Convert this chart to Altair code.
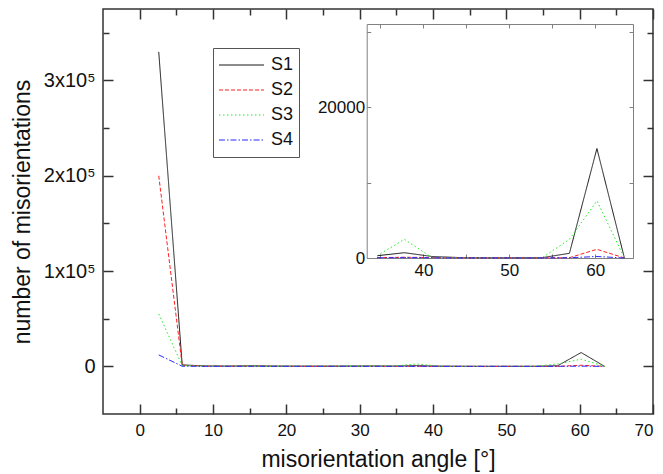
import altair as alt
import pandas as pd

# ---------------- data ----------------
angles = [2.6, 5.8, 9.0, 12.2, 15.4, 18.6, 21.8, 25.0, 28.2, 31.4,
          34.6, 37.8, 41.0, 44.2, 47.4, 50.6, 53.8, 57.0, 60.2, 63.4]
series_names = ["S1", "S2", "S3", "S4"]
s1 = [330000, 1500, 400, 300, 600, 300, 200, 200, 300, 400,
      300, 700, 200, 60, 40, 40, 40, 620, 14500, 0]
s2 = [200000, 1200, 200, 150, 200, 100, 100, 100, 100, 100,
      50, 100, 50, 30, 20, 20, 20, 40, 1150, 0]
s3 = [55000, 800, 300, 200, 300, 200, 200, 200, 300, 400,
      300, 2470, 50, 30, 20, 20, 20, 2470, 7570, 0]
s4 = [12000, 100, 50, 50, 50, 50, 50, 50, 50, 50,
      30, 50, 20, 10, 10, 10, 10, 30, 200, 0]

x_major = [0, 10, 20, 30, 40, 50, 60, 70]
x_minor = [5, 15, 25, 35, 45, 55, 65]
y_major = [0, 100000, 200000, 300000]
y_minor = [50000, 150000, 250000, 350000]
ix_labels = [40, 50, 60]
ix_ticks = [35, 40, 45, 50, 55, 60]
iy_labels = [0, 20000]
iy_ticks = [0, 10000, 20000, 30000]

rows = []
for name, vals in zip(series_names, [s1, s2, s3, s4]):
    for a, v in zip(angles, vals):
        rows.append({"angle": a, "count": v, "series": name})
df = pd.DataFrame(rows)
inset_df = df[df["angle"] >= 34.0]

# ---------------- layout / style ----------------
W, H = 550, 405
FONT = "Liberation Sans"
X_DOM = [-5, 70]
Y_DOM = [-50000, 375000]
IX_DOM = [33.4, 64.4]
IY_DOM = [0, 31000]
IX_RANGE = [263.7, 530]
IY_RANGE = [249, 15]
INS_L, INS_R, INS_T, INS_B = 263.7, 530, 15, 249

color_scale = alt.Scale(domain=series_names,
                        range=["#1a1a1a", "#ff2020", "#22ee22", "#2a2aff"])
dash_scale = alt.Scale(domain=series_names,
                       range=[[1, 0], [4, 2], [1.5, 2.5], [6, 2, 1.5, 2]])


def mscale_x():
    return alt.Scale(domain=X_DOM, nice=False, zero=False)


def mscale_y():
    return alt.Scale(domain=Y_DOM, nice=False, zero=False)


def iscale_x():
    return alt.Scale(domain=IX_DOM, range=IX_RANGE, nice=False, zero=False)


def iscale_y():
    return alt.Scale(domain=IY_DOM, range=IY_RANGE, nice=False, zero=False)


def ax(orient, values, offset, tick=0, labels=False, domain=False,
       color="#333", width=1.5, **kw):
    d = dict(orient=orient, values=values, offset=offset, labels=labels,
             domain=domain, grid=False)
    if tick > 0:
        d.update(ticks=True, tickSize=tick, tickColor=color, tickWidth=width)
    else:
        d.update(ticks=False)
    if domain:
        d.update(domainColor=color, domainWidth=width)
    d.update(kw)
    return alt.Axis(**d)


base = alt.Chart(df)
ibase = alt.Chart(inset_df)

y_label_expr = ("datum.value == 0 ? '0' : "
                "format(datum.value / 100000, 'd') + 'x10\u2075'")

# main lines with bottom/left major axes
m1 = base.mark_line(strokeWidth=1).encode(
    x=alt.X("angle:Q", scale=mscale_x(), title="misorientation angle [°]",
            axis=ax("bottom", x_major, -10, tick=10, labels=True,
                    labelFontSize=17, labelPadding=8, titleFontSize=23,
                    titleFontWeight="normal", titlePadding=10,
                    labelColor="#111", titleColor="#111")),
    y=alt.Y("count:Q", scale=mscale_y(), title="number of misorientations",
            axis=ax("left", y_major, -10, tick=10, labels=True,
                    labelExpr=y_label_expr, labelFontSize=20, labelPadding=8,
                    titleFontSize=23, titleFontWeight="normal",
                    titlePadding=9, labelColor="#111", titleColor="#111")),
    color=alt.Color("series:N", scale=color_scale,
                    legend=alt.Legend(title=None, orient="none",
                                      legendX=110, legendY=39)),
    strokeDash=alt.StrokeDash("series:N", scale=dash_scale, legend=None),
    detail="series:N",
)

# minor ticks bottom / left
m2 = base.mark_point(opacity=0).encode(
    x=alt.X("angle:Q", scale=mscale_x(), title=None,
            axis=ax("bottom", x_minor, -6, tick=6)),
    y=alt.Y("count:Q", scale=mscale_y(), title=None,
            axis=ax("left", y_minor, -6, tick=6)),
)
# top / right major
m3 = base.mark_point(opacity=0).encode(
    x=alt.X("angle:Q", scale=mscale_x(), title=None,
            axis=ax("top", x_major, -10, tick=10)),
    y=alt.Y("count:Q", scale=mscale_y(), title=None,
            axis=ax("right", y_major, -10, tick=10)),
)
# top / right minor
m4 = base.mark_point(opacity=0).encode(
    x=alt.X("angle:Q", scale=mscale_x(), title=None,
            axis=ax("top", x_minor, -6, tick=6)),
    y=alt.Y("count:Q", scale=mscale_y(), title=None,
            axis=ax("right", y_minor, -6, tick=6)),
)

IC = "#808080"
# inset lines, with inset frame bottom/left and labels
i1 = ibase.mark_line(strokeWidth=1).encode(
    x=alt.X("angle:Q", scale=iscale_x(), title=None,
            axis=ax("bottom", ix_labels, -(H - INS_B), domain=True,
                    labels=True, color=IC, width=1, labelFontSize=17,
                    labelPadding=4, labelColor="#111")),
    y=alt.Y("count:Q", scale=iscale_y(), title=None,
            axis=ax("left", iy_labels, -INS_L, domain=True, labels=True,
                    color=IC, width=1, labelFontSize=17, labelPadding=2,
                    labelColor="#111", format="d")),
    color=alt.Color("series:N", scale=color_scale, legend=None),
    strokeDash=alt.StrokeDash("series:N", scale=dash_scale, legend=None),
    detail="series:N",
)
# inset inward ticks bottom/left
i2 = ibase.mark_point(opacity=0).encode(
    x=alt.X("angle:Q", scale=iscale_x(), title=None,
            axis=ax("bottom", ix_ticks, -(H - INS_B) - 4, tick=4, color=IC,
                    width=1)),
    y=alt.Y("count:Q", scale=iscale_y(), title=None,
            axis=ax("left", iy_ticks, -INS_L - 4, tick=4, color=IC,
                    width=1)),
)
# inset frame top/right
i3 = ibase.mark_point(opacity=0).encode(
    x=alt.X("angle:Q", scale=iscale_x(), title=None,
            axis=ax("top", ix_ticks, -INS_T, domain=True, color=IC,
                    width=1)),
    y=alt.Y("count:Q", scale=iscale_y(), title=None,
            axis=ax("right", iy_ticks, -(W - INS_R), domain=True, color=IC,
                    width=1)),
)
# inset inward ticks top/right
i4 = ibase.mark_point(opacity=0).encode(
    x=alt.X("angle:Q", scale=iscale_x(), title=None,
            axis=ax("top", ix_ticks, -INS_T - 4, tick=4, color=IC,
                    width=1)),
    y=alt.Y("count:Q", scale=iscale_y(), title=None,
            axis=ax("right", iy_ticks, -(W - INS_R) - 4, tick=4, color=IC,
                    width=1)),
)

chart = (
    alt.layer(m1, m2, m3, m4, i1, i2, i3, i4)
    .resolve_scale(x="independent", y="independent")
    .resolve_axis(x="independent", y="independent")
    .properties(width=W, height=H,
                padding={"left": 95, "top": 1, "right": 2, "bottom": 58},
                autosize=alt.AutoSizeParams(type="none"))
    .configure_view(stroke="#333", strokeWidth=1.5)
    .configure_axis(labelFont=FONT, titleFont=FONT, grid=False)
    .configure_legend(labelFont=FONT, labelFontSize=18, labelColor="#111",
                      symbolType="stroke", symbolSize=2025,
                      symbolStrokeWidth=1.2, strokeColor="#555",
                      fillColor="white", padding=5, rowPadding=1,
                      clipHeight=24, labelOffset=6)
)

chart.save("out.html", embed_options={"renderer": "svg", "actions": False})
